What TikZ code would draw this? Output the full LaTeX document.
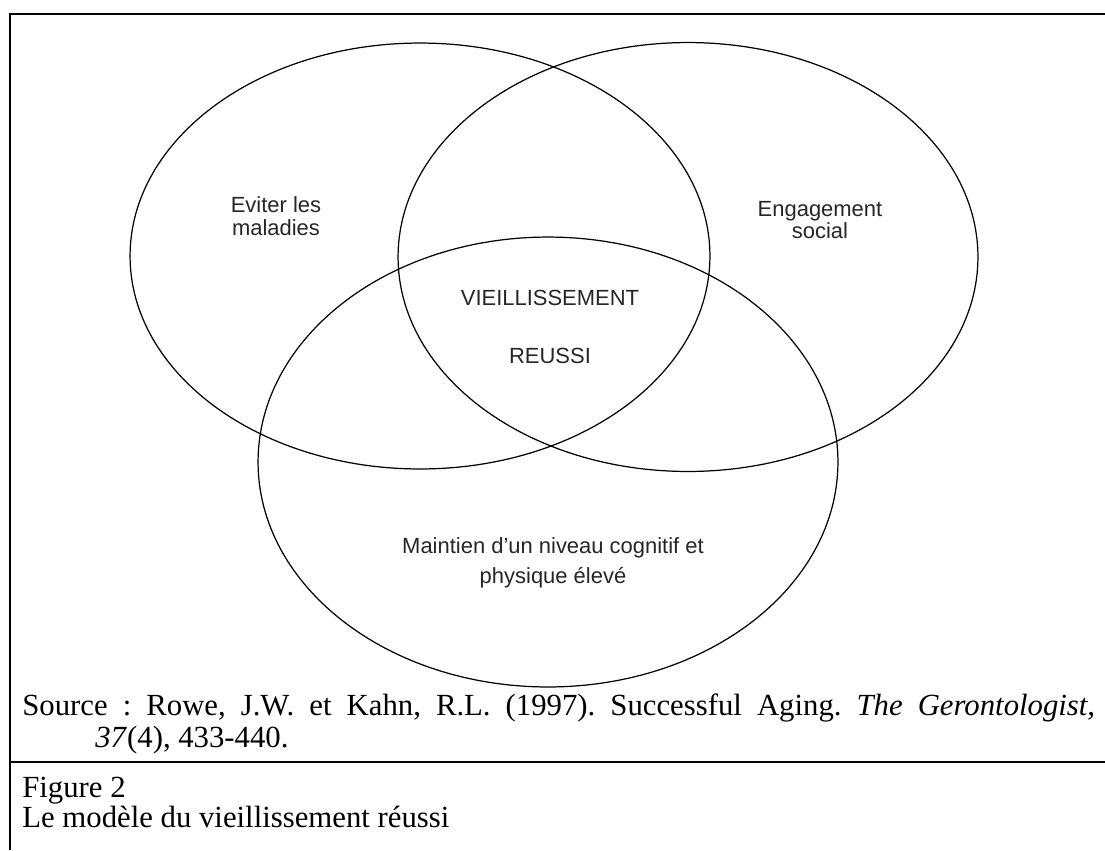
\documentclass[tikz,border=0pt]{standalone}
\usepackage{fontspec}
\setmainfont{Liberation Serif}
\setsansfont{Liberation Sans}
\usetikzlibrary{positioning, shapes.geometric}

\begin{document}
\begin{tikzpicture}[x=0.02cm, y=-0.02cm,
    cercle/.style={draw, line width=0.7pt, ellipse, inner sep=0pt, minimum width=11.6cm},
    etiquette/.style={font=\sffamily\fontsize{12.5}{13}\selectfont, text=black!85, align=center, inner sep=0pt},
    legende/.style={font=\fontsize{17.5}{20}\selectfont\frenchspacing, anchor=base west, inner sep=0pt}]

  \useasboundingbox (0,0) rectangle (1105,850);

  % --- cadre ---
  \draw[line width=1.2pt] (10,850) -- (10,14) -- (1105,14);
  \draw[line width=1pt] (10,762) -- (1105,762);

  % --- trois ellipses ---
  \node[cercle, minimum height=8.52cm] (maladies) at (420,256) {};
  \node[cercle, minimum height=8.58cm] (social) at (688,257) {};
  \node[cercle, minimum height=9.0cm] (cognitif) at (548,462) {};

  % --- textes ---
  \node[etiquette] (tmaladies) at (276,216) {Eviter les\\maladies};
  \node[etiquette] (tsocial) at (820,220) {Engagement\\social};
  \node[etiquette] (tcentre) at (550,327) {VIEILLISSEMENT\\[20pt]REUSSI};
  \node[etiquette] (tcognitif) at (553,563) {Maintien d'un niveau cognitif et\\[4pt]physique élevé};

  % --- source et titre ---
  \node[legende] (source) at (22,715) {\makebox[21.46cm][s]{Source : Rowe, J.W. et Kahn, R.L. (1997). Successful Aging. \textit{The Gerontologist,}}};
  \node[legende] (source2) at (95,747) {\textit{37}(4), 433-440.};
  \node[legende] (fig) at (22,797) {Figure 2};
  \node[legende] (titre) at (22,827) {Le modèle du vieillissement réussi};
\end{tikzpicture}
\end{document}
